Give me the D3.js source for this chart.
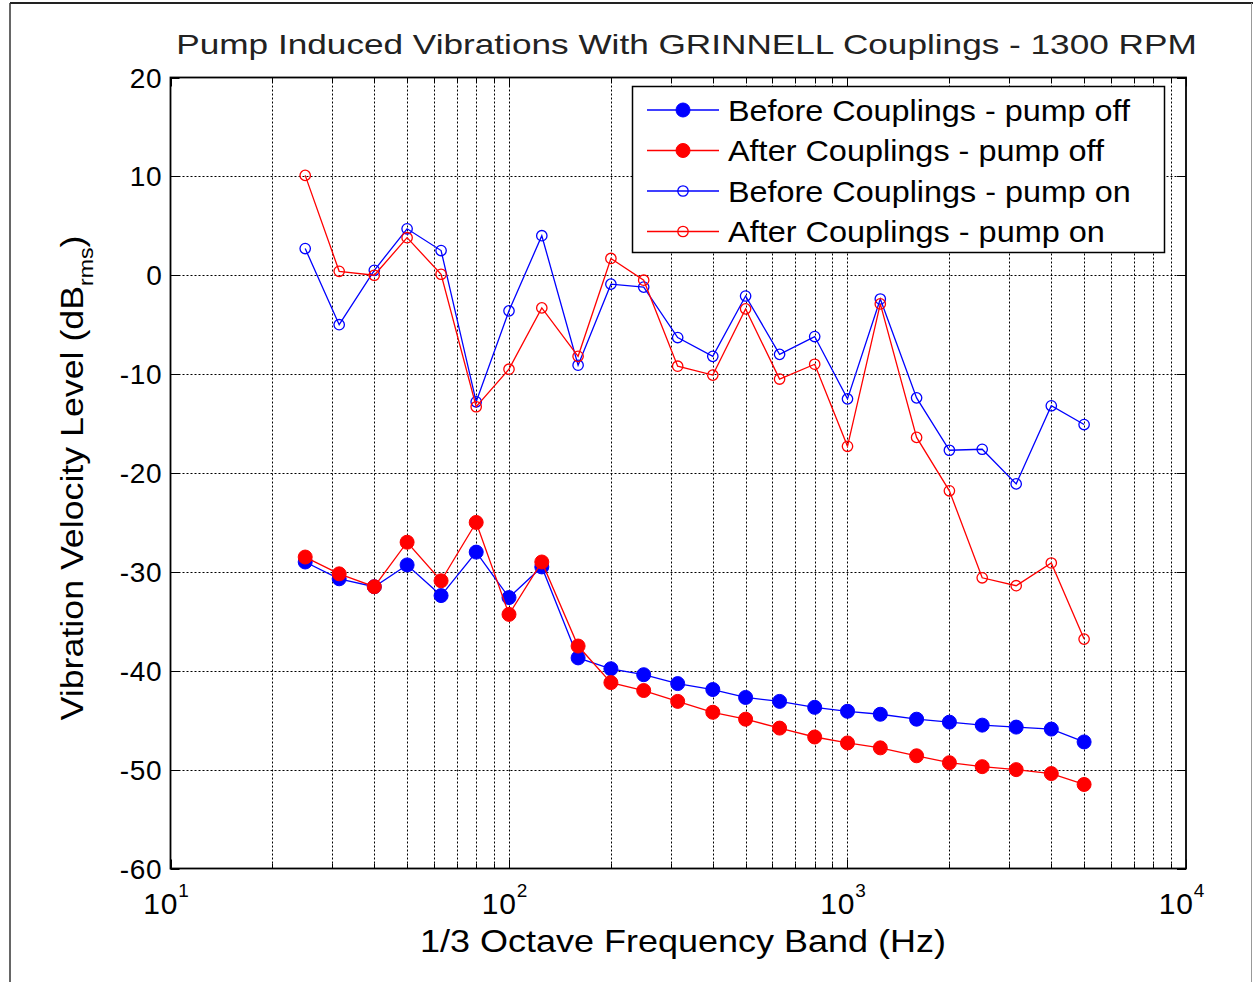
<!DOCTYPE html>
<html>
<head>
<meta charset="utf-8">
<script src="https://cdn.jsdelivr.net/npm/d3@7"></script>
<style>
  html, body { margin: 0; padding: 0; background: #fff; }
  svg { display: block; font-family: "Liberation Sans", Arial, Helvetica, sans-serif; }
</style>
</head>
<body>
<svg id="chart" width="1253" height="982"></svg>
<script>
// ---- data ----
const freqs = [25, 31.5, 40, 50, 63, 80, 100, 125, 160, 200, 250, 315, 400, 500, 630, 800, 1000, 1250, 1600, 2000, 2500, 3150, 4000, 5000];
const beforeOff = [-29.0, -30.7, -31.5, -29.3, -32.4, -28.0, -32.6, -29.5, -38.7, -39.8, -40.4, -41.3, -41.9, -42.7, -43.1, -43.7, -44.1, -44.4, -44.9, -45.2, -45.5, -45.7, -45.9, -47.2];
const afterOff  = [-28.5, -30.2, -31.5, -27.0, -30.9, -25.0, -34.3, -29.0, -37.5, -41.2, -42.0, -43.1, -44.2, -44.9, -45.8, -46.7, -47.3, -47.8, -48.6, -49.3, -49.7, -50.0, -50.4, -51.5];
const beforeOn  = [2.7, -5.0, 0.5, 4.7, 2.5, -12.8, -3.6, 4.0, -9.1, -0.9, -1.2, -6.3, -8.2, -2.1, -8.0, -6.2, -12.5, -2.4, -12.4, -17.7, -17.6, -21.1, -13.2, -15.1];
const afterOn   = [10.1, 0.4, 0.0, 3.8, 0.1, -13.3, -9.5, -3.3, -8.2, 1.7, -0.5, -9.2, -10.1, -3.4, -10.5, -9.0, -17.3, -2.9, -16.4, -21.8, -30.6, -31.4, -29.1, -36.8];
const yTicks = [20, 10, 0, -10, -20, -30, -40, -50, -60];
const xTickExps = [1, 2, 3, 4];
const seriesNames = ["Before Couplings - pump off", "After Couplings - pump off", "Before Couplings - pump on", "After Couplings - pump on"];
const seriesColors = ["#0000ff", "#ff0000", "#0000ff", "#ff0000"];
const seriesFilled = [true, true, false, false];
const seriesValues = [beforeOff, afterOff, beforeOn, afterOn];

// ---- layout ----
const svg = d3.select("#chart");
const L = 170.5, R = 1186, T = 77.5, B = 868.5;
const x = d3.scaleLog().domain([10, 10000]).range([L, R]);
const y = d3.scaleLinear().domain([-60, 20]).range([B, T]);

// horizontal stretch of a text group to a target width
function stretch(g, textSel, target, base) {
  const w = textSel.node().getBBox().width;
  const sx = target / w;
  g.attr("transform", base + " scale(" + sx + ",1)");
}

// figure frame
svg.append("line").attr("x1", 10).attr("x2", 1253).attr("y1", 3).attr("y2", 3).attr("stroke", "#222").attr("stroke-width", 2);
svg.append("line").attr("x1", 10).attr("x2", 10).attr("y1", 3).attr("y2", 982).attr("stroke", "#333").attr("stroke-width", 1.5);
svg.append("line").attr("x1", 1251.5).attr("x2", 1251.5).attr("y1", 3).attr("y2", 982).attr("stroke", "#999").attr("stroke-width", 1);

// grid
const minorX = [];
for (let d = 10; d < 10000; d *= 10) for (let k = 1; k <= 9; k++) minorX.push(d * k);
minorX.push(10000);
const grid = svg.append("g");
grid.selectAll("line.gx").data(minorX.filter(v => v > 10 && v < 10000)).enter().append("line")
  .attr("x1", d => Math.round(x(d)) + 0.5).attr("x2", d => Math.round(x(d)) + 0.5)
  .attr("y1", T).attr("y2", B)
  .attr("stroke", "#000").attr("stroke-width", 1).attr("stroke-dasharray", "2,2");
grid.selectAll("line.gy").data(yTicks.filter(v => v > -60 && v < 20)).enter().append("line")
  .attr("x1", L).attr("x2", R)
  .attr("y1", d => Math.round(y(d)) + 0.5).attr("y2", d => Math.round(y(d)) + 0.5)
  .attr("stroke", "#000").attr("stroke-width", 1).attr("stroke-dasharray", "2,2");

// tick marks inside box
const ticks = svg.append("g").attr("stroke", "#000").attr("stroke-width", 1);
minorX.forEach(v => {
  const len = (Math.abs(Math.log10(v) - Math.round(Math.log10(v))) < 1e-9) ? 9 : 5;
  const xx = Math.round(x(v)) + 0.5;
  ticks.append("line").attr("x1", xx).attr("x2", xx).attr("y1", B).attr("y2", B - len);
  ticks.append("line").attr("x1", xx).attr("x2", xx).attr("y1", T).attr("y2", T + len);
});
yTicks.forEach(v => {
  const yy = Math.round(y(v)) + 0.5;
  ticks.append("line").attr("x1", L).attr("x2", L + 9).attr("y1", yy).attr("y2", yy);
  ticks.append("line").attr("x1", R).attr("x2", R - 9).attr("y1", yy).attr("y2", yy);
});

// box
svg.append("rect").attr("x", L).attr("y", T).attr("width", R - L).attr("height", B - T)
  .attr("fill", "none").attr("stroke", "#000").attr("stroke-width", 1.8);

// y tick labels
svg.append("g").selectAll("text").data(yTicks).enter().append("text")
  .attr("x", L - 8).attr("y", d => y(d)).attr("dy", "0.36em")
  .attr("text-anchor", "end").attr("font-size", 28).attr("letter-spacing", 0.8).attr("fill", "#000")
  .text(d => d);

// x tick labels 10^n
const xl = svg.append("g");
xTickExps.forEach(e => {
  const t = xl.append("text").attr("x", x(Math.pow(10, e)) - 4).attr("y", 914)
    .attr("text-anchor", "middle").attr("font-size", 30).attr("letter-spacing", 0.8).attr("fill", "#000");
  t.append("tspan").text("10");
  t.append("tspan").attr("dy", -17).attr("font-size", 19).text(e);
});

// title
const tg = svg.append("g");
const tt = tg.append("text").attr("x", 0).attr("y", 0).attr("text-anchor", "middle")
  .attr("font-size", 28).attr("fill", "#222")
  .text("Pump Induced Vibrations With GRINNELL Couplings - 1300 RPM");
stretch(tg, tt, 1021, "translate(686.5,54)");

// axis labels
const xg = svg.append("g");
const xt = xg.append("text").attr("x", 0).attr("y", 0).attr("text-anchor", "middle")
  .attr("font-size", 31).attr("fill", "#000")
  .text("1/3 Octave Frequency Band (Hz)");
stretch(xg, xt, 526, "translate(683,952)");

const yg = svg.append("g");
const yl = yg.append("text").attr("x", 0).attr("y", 0)
  .attr("text-anchor", "middle").attr("font-size", 31).attr("fill", "#000");
yl.append("tspan").text("Vibration Velocity Level (dB");
yl.append("tspan").attr("font-size", 20).attr("dy", 10).text("rms");
yl.append("tspan").attr("dy", -10).text(")");
stretch(yg, yl, 485, "translate(83,478) rotate(-90)");

// series
const line = d3.line().x(d => x(d[0])).y(d => y(d[1]));
seriesValues.forEach((vals, i) => {
  const pts = freqs.map((f, j) => [f, vals[j]]);
  const g = svg.append("g");
  g.append("path").datum(pts).attr("d", line).attr("fill", "none")
    .attr("stroke", seriesColors[i]).attr("stroke-width", 1.3);
  g.selectAll("circle").data(pts).enter().append("circle")
    .attr("cx", d => x(d[0])).attr("cy", d => y(d[1]))
    .attr("r", seriesFilled[i] ? 7 : 5.2)
    .attr("fill", seriesFilled[i] ? seriesColors[i] : "none")
    .attr("stroke", seriesColors[i]).attr("stroke-width", seriesFilled[i] ? 1 : 1.3);
});

// legend
const lg = svg.append("g");
lg.append("rect").attr("x", 632.5).attr("y", 86.5).attr("width", 532).attr("height", 166)
  .attr("fill", "#fff").attr("stroke", "#000").attr("stroke-width", 1.5);
const rowsY = [110, 150.5, 191, 231.5];
const legendLens = [403, 377, 403, 377];
seriesNames.forEach((name, i) => {
  const yy = rowsY[i];
  lg.append("line").attr("x1", 647).attr("x2", 719).attr("y1", yy).attr("y2", yy)
    .attr("stroke", seriesColors[i]).attr("stroke-width", 1.3);
  lg.append("circle").attr("cx", 683).attr("cy", yy).attr("r", seriesFilled[i] ? 7 : 5.2)
    .attr("fill", seriesFilled[i] ? seriesColors[i] : "none")
    .attr("stroke", seriesColors[i]).attr("stroke-width", seriesFilled[i] ? 1 : 1.3);
  const eg = lg.append("g");
  const et = eg.append("text").attr("x", 0).attr("y", 0).attr("dy", "0.36em")
    .attr("font-size", 29.5).attr("fill", "#000").text(name);
  stretch(eg, et, legendLens[i], "translate(728," + yy + ")");
});
</script>
</body>
</html>
